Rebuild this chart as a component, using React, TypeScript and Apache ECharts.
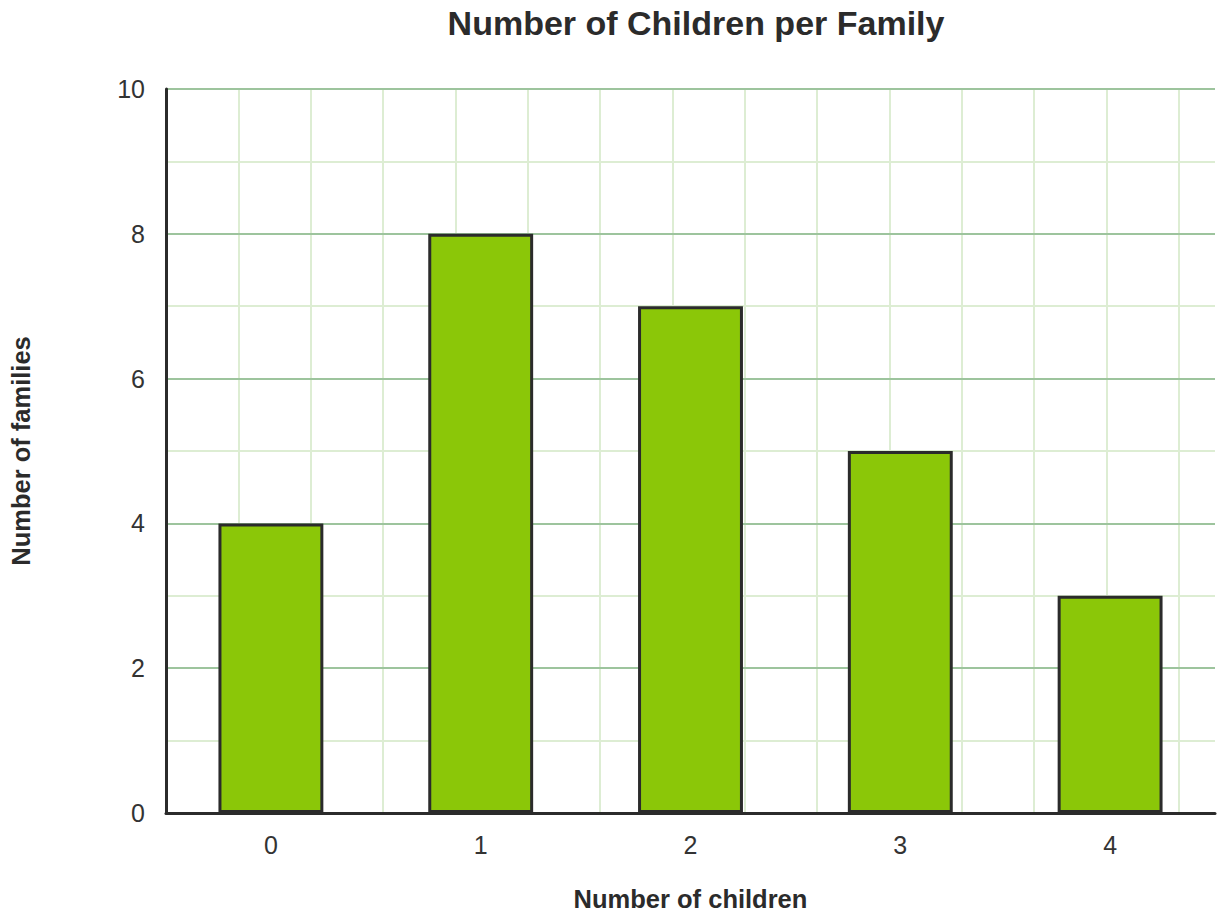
import React, { useEffect, useRef } from "react";
import * as echarts from "echarts";

const categories = ["0", "1", "2", "3", "4"];
const families = [4, 8, 7, 5, 3];
const yTicks = { min: 0, max: 10, interval: 2 };

const FONT = "'Liberation Sans', Arial, sans-serif";

export default function App() {
  const ref = useRef<HTMLDivElement>(null);
  useEffect(() => {
    document.body.style.margin = "0";
    const chart = echarts.init(ref.current!, null, { renderer: "svg" });
    chart.setOption({
      animation: false,
      backgroundColor: "#ffffff",
      title: {
        text: "Number of Children per Family",
        left: 691,
        textAlign: "center",
        top: 1,
        textStyle: { fontFamily: FONT, fontSize: 34, fontWeight: "bold", color: "#2b2b2b" },
      },
      grid: { left: 164, top: 89, width: 1051, height: 724 },
      xAxis: [
        {
          type: "category",
          data: categories,
          name: "Number of children",
          nameLocation: "middle",
          nameGap: 73,
          nameTextStyle: { fontFamily: FONT, fontSize: 25.5, fontWeight: "bold", color: "#2b2b2b" },
          axisLine: { show: true, lineStyle: { color: "#2b2b2b", width: 3 } },
          axisTick: { show: false },
          axisLabel: { fontFamily: FONT, fontSize: 25, color: "#333333", margin: 19 },
          splitLine: { show: false },
          z: 5,
        },
        {
          type: "value",
          min: 0,
          max: 14.5,
          interval: 1,
          position: "bottom",
          axisLine: { show: false },
          axisTick: { show: false },
          axisLabel: { show: false },
          splitLine: {
            show: true,
            showMinLine: false,
            showMaxLine: false,
            lineStyle: { color: "#ddedd3", width: 2 },
          },
          z: 0,
        },
      ],
      yAxis: {
        type: "value",
        min: yTicks.min,
        max: yTicks.max,
        interval: yTicks.interval,
        name: "Number of families",
        nameLocation: "middle",
        nameGap: 132,
        nameRotate: 90,
        nameTextStyle: { fontFamily: FONT, fontSize: 25.5, fontWeight: "bold", color: "#2b2b2b" },
        axisLine: { show: true, lineStyle: { color: "#2b2b2b", width: 3 } },
        axisTick: { show: false },
        axisLabel: { fontFamily: FONT, fontSize: 25, color: "#333333", margin: 21 },
        splitLine: { show: true, lineStyle: { color: "#9dc49d", width: 2 } },
        minorTick: { show: false, splitNumber: 2 },
        minorSplitLine: { show: true, lineStyle: { color: "#ddedd3", width: 2 } },
        z: 3,
      },
      series: [
        {
          type: "bar",
          xAxisIndex: 0,
          data: families,
          barWidth: "50%",
          itemStyle: { color: "#8bc708", borderColor: "#2b2b2b", borderWidth: 3 },
          z: 6,
        },
      ],
    });
    return () => chart.dispose();
  }, []);
  return <div ref={ref} style={{ width: 1224, height: 917 }} />;
}
